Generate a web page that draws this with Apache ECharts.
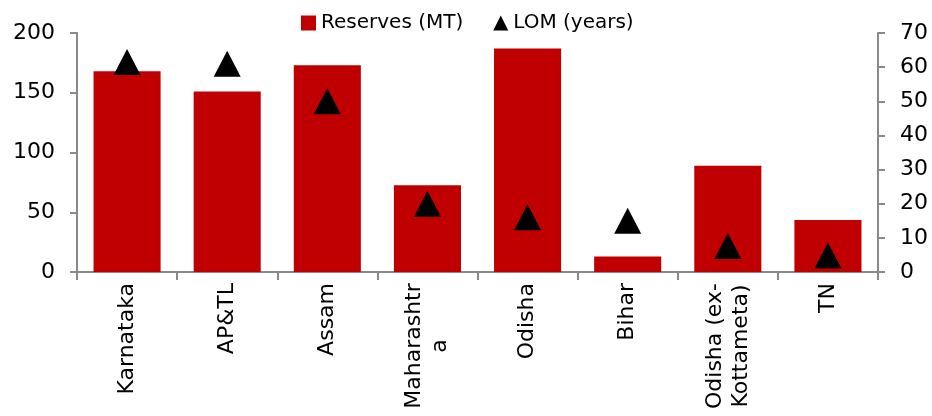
<!DOCTYPE html>
<html><head><meta charset="utf-8">
<script src="https://cdn.jsdelivr.net/npm/echarts@6/dist/echarts.min.js"></script>
<style>html,body{margin:0;padding:0;background:#fff}#c{width:932px;height:416px}</style>
</head><body><div id="c"></div>
<script>
const categories = ['Karnataka', 'AP&TL', 'Assam', 'Maharashtr\na', 'Odisha', 'Bihar', 'Odisha (ex-\nKottameta)', 'TN'];
const reserves = [168, 151, 173, 72.5, 187, 13, 89, 43.5];
const lom = [61.5, 61, 50, 20, 16, 15, 7.6, 4.8];
const leftTicks = {min: 0, max: 200, interval: 50};
const rightTicks = {min: 0, max: 70, interval: 10};

const FONT = 'DejaVu Sans';
const LABEL_SIZE = 22;
const measureCtx = document.createElement('canvas').getContext('2d');
measureCtx.font = LABEL_SIZE + 'px "' + FONT + '"';
const rich = {};
const labelFormatter = function (value, idx) {
  if (value.indexOf('\n') < 0) return value;
  const lines = value.split('\n');
  const w = Math.ceil(Math.max.apply(null, lines.map(l => measureCtx.measureText(l).width)));
  const key = 'c' + idx;
  rich[key] = {width: w, align: 'center', fontSize: LABEL_SIZE, fontFamily: FONT, color: '#000', lineHeight: 26};
  return lines.map(l => '{' + key + '|' + l + '}').join('\n');
};
categories.forEach((c, i) => labelFormatter(c, i));

const chart = echarts.init(document.getElementById('c'), null, {renderer: 'canvas'});
const axisLine = {show: true, lineStyle: {color: '#898989', width: 2}};
chart.setOption({
  animation: false,
  textStyle: {fontFamily: FONT, color: '#000'},
  legend: {
    top: 8, left: 296, itemGap: 30, itemWidth: 15, itemHeight: 15,
    textStyle: {fontFamily: FONT, fontSize: 20, color: '#000'},
    data: [{name: 'Reserves (MT)', icon: 'rect'}, {name: 'LOM (years)', icon: 'triangle'}]
  },
  grid: {left: 77, right: 54, top: 33, bottom: 144},
  xAxis: {
    type: 'category', data: categories, boundaryGap: true,
    axisLine: axisLine,
    axisTick: {show: true, length: 8, lineStyle: {color: '#898989', width: 2}},
    axisLabel: {rotate: 90, interval: 0, fontSize: LABEL_SIZE, color: '#000', fontFamily: FONT, margin: 11, lineHeight: 26,
      formatter: labelFormatter, rich: rich}
  },
  yAxis: [
    {type: 'value', min: leftTicks.min, max: leftTicks.max, interval: leftTicks.interval,
     axisLine: axisLine, axisTick: {show: true, length: 7, lineStyle: {color: '#898989', width: 2}},
     splitLine: {show: false},
     axisLabel: {fontSize: 22, color: '#000', fontFamily: FONT, margin: 22}},
    {type: 'value', position: 'right', min: rightTicks.min, max: rightTicks.max, interval: rightTicks.interval,
     axisLine: axisLine, axisTick: {show: true, length: 7, lineStyle: {color: '#898989', width: 2}},
     splitLine: {show: false},
     axisLabel: {fontSize: 22, color: '#000', fontFamily: FONT, margin: 22}}
  ],
  series: [
    {name: 'Reserves (MT)', type: 'bar', yAxisIndex: 0, data: reserves, barWidth: '67%',
     itemStyle: {color: '#C00000'}},
    {name: 'LOM (years)', type: 'scatter', yAxisIndex: 1, data: lom, symbol: 'triangle',
     symbolSize: [27, 26], itemStyle: {color: '#000', opacity: 1}, z: 5}
  ]
});
</script></body></html>
